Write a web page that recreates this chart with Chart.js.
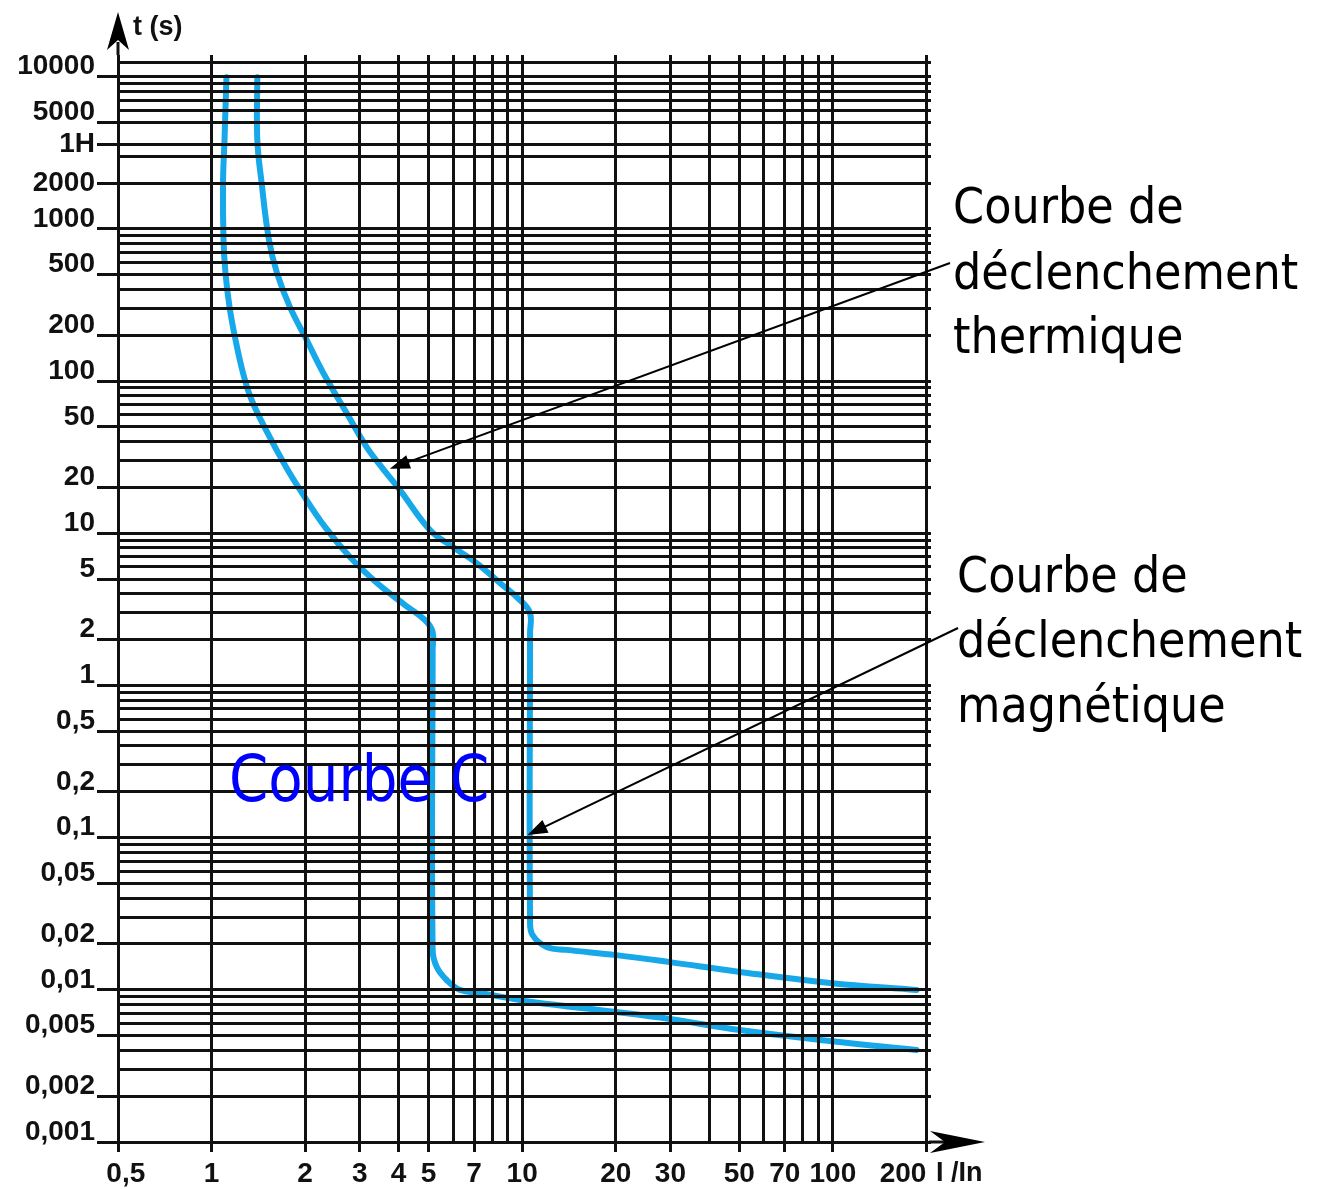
<!DOCTYPE html>
<html lang="fr">
<head>
<meta charset="utf-8">
<title>Courbe C</title>
<script src="https://cdn.jsdelivr.net/npm/chart.js@4.4.0/dist/chart.umd.min.js"></script>
<style>
  html, body { margin: 0; padding: 0; background: #fff; }
  canvas { display: block; }
</style>
</head>
<body>
<canvas id="tripChart" width="1334" height="1189"></canvas>
<script>
// lower tripping curve: I/In and t (s)
const lowerCurveI = [1.117, 1.101, 1.089, 1.093, 1.109, 1.143, 1.195, 1.263, 1.34, 1.497, 1.737, 1.955, 2.319, 2.79, 3.409, 4.196, 4.865, 5.15, 5.15, 5.15, 5.31, 5.71, 6.31, 7.32, 10.8, 20.1, 29.9, 50.2, 97.8, 186];
const lowerCurveT = [9900, 3830, 2000, 844, 512, 306, 186, 113, 77, 47.7, 27.2, 18.4, 11.0, 6.97, 4.71, 3.375, 2.69, 2.24, 1.71, 0.0183, 0.0141, 0.0116, 0.00997, 0.00953, 0.00831, 0.00715, 0.00643, 0.00544, 0.00461, 0.00402];

// upper tripping curve
const upperCurveI = [1.404, 1.404, 1.45, 1.531, 1.625, 1.789, 2.025, 2.29, 2.723, 3.158, 3.591, 4.043, 5.048, 5.986, 7.135, 8.481, 9.834, 10.6, 10.6, 10.6, 10.8, 11.99, 13.9, 20.1, 29.9, 50.2, 97.8, 186];
const upperCurveT = [9900, 3830, 2000, 844, 512, 306, 186, 113, 61.6, 36.8, 26.0, 19.2, 10.5, 8.11, 6.37, 4.71, 3.64, 2.99, 2.21, 0.0288, 0.0229, 0.0191, 0.0183, 0.0169, 0.0152, 0.0131, 0.0111, 0.00997];

// axis grid and tick labels
const xGridValues = [0.5, 1, 2, 3, 4, 5, 6, 7, 8, 9, 10, 20, 30, 40, 50, 60, 70, 80, 90, 100, 200];
const xLabelValues = [0.5, 1, 2, 3, 4, 5, 7, 10, 20, 30, 50, 70, 100, 200];
const xLabelTexts = ['  0,5', '1', '2', '3', '4', '5', '7', '10', '20', '30', '50', '70', '100', '200      '];

const yGridValues = [
  0.001, 0.002, 0.003, 0.004, 0.005, 0.006, 0.007, 0.008, 0.009,
  0.01, 0.02, 0.03, 0.04, 0.05, 0.06, 0.07, 0.08, 0.09,
  0.1, 0.2, 0.3, 0.4, 0.5, 0.6, 0.7, 0.8, 0.9,
  1, 2, 3, 4, 5, 6, 7, 8, 9,
  10, 20, 30, 40, 50, 60, 70, 80, 90,
  100, 200, 300, 400, 500, 600, 700, 800, 900,
  1000, 2000, 3000, 3600, 5000, 6000, 7000, 8000, 9000, 10000, 12300
];
const yLabelValues = [0.001, 0.002, 0.005, 0.01, 0.02, 0.05, 0.1, 0.2, 0.5, 1, 2, 5, 10, 20, 50, 100, 200, 500, 1000, 2000, 3600, 5000, 10000];
const yLabelTexts = ['0,001', '0,002', '0,005', '0,01', '0,02', '0,05', '0,1', '0,2', '0,5', '1', '2', '5', '10', '20', '50', '100', '200', '500', '1000', '2000', '1H', '5000', '10000'];
const yCenteredLabels = ['1H', '2000'];

const labelFont = '"Liberation Sans", Arial, sans-serif';
const textFont = '"DejaVu Sans", Verdana, sans-serif';
const lineColor = '#111';
const curveColor = '#17a8ea';

function toPoints(xs, ys) {
  return xs.map((v, i) => ({ x: v, y: ys[i] }));
}

function labelFor(value, values, texts) {
  const i = values.indexOf(value);
  return i < 0 ? '' : texts[i];
}

function hasLabel(ctx) {
  return ctx.tick && ctx.tick.label !== '' && ctx.tick.label !== undefined;
}

function arrowHead(ctx, tipX, tipY, dx, dy, len, half, notch) {
  const bx = tipX - dx * len, by = tipY - dy * len;
  const px = -dy, py = dx;
  ctx.beginPath();
  ctx.moveTo(tipX, tipY);
  ctx.lineTo(bx + px * half, by + py * half);
  ctx.lineTo(tipX - dx * (len - notch), tipY - dy * (len - notch));
  ctx.lineTo(bx - px * half, by - py * half);
  ctx.closePath();
  ctx.fill();
}

function drawText(ctx, text, x, y, size, color, stretch) {
  ctx.save();
  ctx.font = size + 'px ' + textFont;
  ctx.fillStyle = color;
  ctx.textBaseline = 'alphabetic';
  ctx.textAlign = 'left';
  ctx.translate(x, y);
  ctx.scale(stretch, 1);
  ctx.fillText(text, 0, 0);
  ctx.restore();
}

function pointer(ctx, fromX, fromY, toX, toY) {
  const len = Math.hypot(toX - fromX, toY - fromY);
  const dx = (toX - fromX) / len, dy = (toY - fromY) / len;
  ctx.beginPath();
  ctx.moveTo(fromX, fromY);
  ctx.lineTo(toX - dx * 12, toY - dy * 12);
  ctx.stroke();
  arrowHead(ctx, toX, toY, dx, dy, 20, 7, 0);
}

// axis arrows, captions and pointers drawn on top of the chart
const decorations = {
  id: 'decorations',
  afterDraw(chart) {
    const { ctx, chartArea, scales } = chart;
    const x = scales.x, y = scales.y;
    ctx.save();
    ctx.strokeStyle = lineColor;
    ctx.fillStyle = '#000';
    ctx.lineWidth = 3;

    // time axis arrow
    ctx.beginPath();
    ctx.moveTo(chartArea.left, chartArea.top);
    ctx.lineTo(chartArea.left, 42);
    ctx.stroke();
    arrowHead(ctx, chartArea.left, 12, 0, -1, 38, 11, 10);

    // current axis arrow
    ctx.beginPath();
    ctx.moveTo(chartArea.right - 2, chartArea.bottom);
    ctx.lineTo(950, chartArea.bottom);
    ctx.stroke();
    arrowHead(ctx, 985, chartArea.bottom, 1, 0, 55, 11, 15);

    ctx.font = 'bold 27px ' + labelFont;
    ctx.fillStyle = '#111';
    ctx.textBaseline = 'alphabetic';
    ctx.fillText('t (s)', 133, 35);
    ctx.fillText('I /In', 936, 1181);

    // pointers to the curves
    ctx.strokeStyle = '#000';
    ctx.fillStyle = '#000';
    ctx.lineWidth = 2;
    pointer(ctx, 950, 263, x.getPixelForValue(3.75), y.getPixelForValue(26.5));
    pointer(ctx, 958, 628, x.getPixelForValue(10.4), y.getPixelForValue(0.104));

    drawText(ctx, 'Courbe de', 953, 223, 49, '#000', 0.91);
    drawText(ctx, 'déclenchement', 953, 289, 49, '#000', 0.91);
    drawText(ctx, 'thermique', 953, 353, 49, '#000', 0.91);

    drawText(ctx, 'Courbe de', 957, 592, 49, '#000', 0.91);
    drawText(ctx, 'déclenchement', 957, 657, 49, '#000', 0.91);
    drawText(ctx, 'magnétique', 957, 722, 49, '#000', 0.91);

    drawText(ctx, 'Courbe C', 229, 801, 64, '#0000ff', 0.88);
    ctx.restore();
  }
};

const curveStyle = {
  showLine: true,
  pointRadius: 0,
  borderColor: curveColor,
  borderWidth: 6,
  tension: 0.4,
  borderCapStyle: 'round',
  borderJoinStyle: 'round',
  fill: false
};

new Chart(document.getElementById('tripChart'), {
  type: 'scatter',
  data: {
    datasets: [
      Object.assign({ label: 'lower', data: toPoints(lowerCurveI, lowerCurveT) }, curveStyle),
      Object.assign({ label: 'upper', data: toPoints(upperCurveI, upperCurveT) }, curveStyle)
    ]
  },
  options: {
    responsive: false,
    animation: false,
    layout: { padding: { top: 55, right: 403, bottom: 0, left: 0 } },
    plugins: { legend: { display: false }, tooltip: { enabled: false } },
    scales: {
      x: {
        type: 'logarithmic',
        min: 0.5,
        max: 207,
        bounds: 'data',
        afterBuildTicks: (s) => { s.ticks = xGridValues.map(v => ({ value: v })); },
        afterFit: (s) => { s.height = 47; },
        border: { display: false },
        grid: {
          z: 1,
          color: lineColor,
          lineWidth: 3,
          tickLength: 10,
          tickColor: (ctx) => hasLabel(ctx) ? lineColor : 'rgba(0,0,0,0)'
        },
        ticks: {
          autoSkip: false,
          maxRotation: 0,
          minRotation: 0,
          padding: 5,
          color: '#111',
          font: { family: labelFont, size: 28, weight: 'bold' },
          callback: (v) => labelFor(v, xLabelValues, xLabelTexts)
        }
      },
      y: {
        type: 'logarithmic',
        min: 0.001,
        max: 13870,
        bounds: 'data',
        afterBuildTicks: (s) => { s.ticks = yGridValues.map(v => ({ value: v })); },
        afterFit: (s) => { s.width = 118; },
        border: { display: false },
        grid: {
          z: 1,
          color: lineColor,
          lineWidth: 3,
          tickLength: 21,
          tickColor: (ctx) => hasLabel(ctx) ? lineColor : 'rgba(0,0,0,0)'
        },
        ticks: {
          autoSkip: false,
          padding: 2,
          labelOffset: -10,
          color: '#111',
          font: (ctx) => ({
            family: labelFont,
            size: 28,
            weight: 'bold',
            lineHeight: (ctx.tick && Array.isArray(ctx.tick.label)) ? '20px' : 1.2
          }),
          callback: (v) => {
            const t = labelFor(v, yLabelValues, yLabelTexts);
            return yCenteredLabels.includes(t) ? ['', t] : t;
          }
        }
      }
    }
  },
  plugins: [decorations]
});
</script>
</body>
</html>
